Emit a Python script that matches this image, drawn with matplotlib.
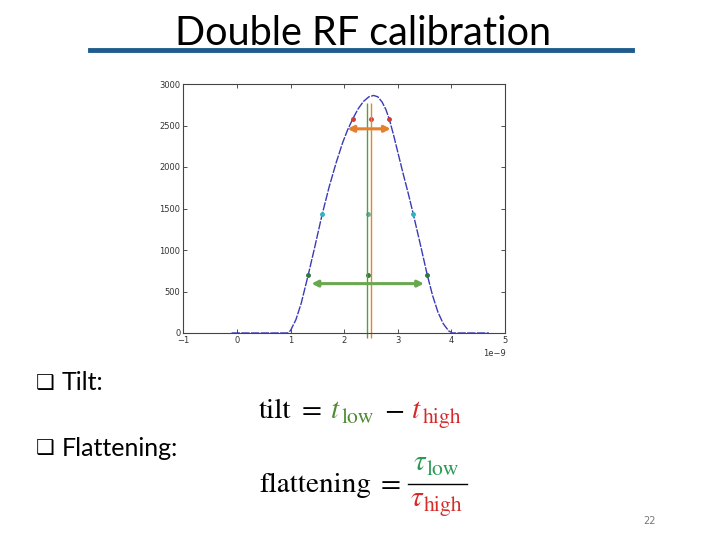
import matplotlib
matplotlib.use('Agg')
import matplotlib.pyplot as plt

# pulse shape (time in units of 1e-9 s)
curve_x = [-0.1, 0.5, 0.95, 1.0, 1.1, 1.2, 1.33, 1.45, 1.59, 1.72, 1.85, 1.97, 2.06,
           2.16, 2.26, 2.36, 2.46, 2.55, 2.63, 2.71, 2.78, 2.84, 2.92, 3.0, 3.1, 3.2,
           3.29, 3.42, 3.55, 3.65, 3.75, 3.85, 3.95, 4.02, 4.4, 4.7]
curve_y = [0, 0, 0, 30, 160, 360, 700, 1030, 1430, 1760, 2050, 2290, 2440,
           2580, 2700, 2790, 2845, 2862, 2845, 2780, 2690, 2580, 2390, 2180, 1920, 1670,
           1430, 1070, 700, 450, 250, 110, 25, 0, 0, 0]

high_x = [2.16, 2.50, 2.84]
high_y = [2580, 2580, 2580]
mid_x = [1.59, 2.44, 3.29]
mid_y = [1430, 1430, 1430]
low_x = [1.33, 2.44, 3.55]
low_y = [700, 700, 700]

t_low_line = 2.43
t_high_line = 2.51
line_ymin, line_ymax = -60, 2770

high_arrow = (2.06, 2.87, 2460)
low_arrow = (1.39, 3.49, 595)

fig = plt.figure(figsize=(7.2, 5.4), dpi=100)
W, H = 720.0, 540.0

def fx(px):
    return px / W

def fy(py):
    return 1 - py / H

# title and underline
fig.text(fx(363), fy(45), 'Double RF calibration', fontsize=28.5, family='Lato',
         ha='center', va='baseline', color='black')
fig.add_artist(plt.Line2D([fx(90), fx(632)], [fy(50), fy(50)], color='#1f5b8c', lw=3.5))

# chart
ax = fig.add_axes([fx(183.3), fy(333), fx(505 - 183.3), (333 - 84) / H])
ax.plot(curve_x, curve_y, color='#3a3ab8', lw=1.0, ls=(0, (6, 1)))
ax.plot(high_x, high_y, 'o', color='#d23a3a', ms=2.5)
ax.plot(mid_x[:1] + mid_x[2:], mid_y[:1] + mid_y[2:], 'o', color='#2fb3c0', ms=2.5)
ax.plot(mid_x[1:2], mid_y[1:2], 'o', color='#5fb0a0', ms=2.5)
ax.plot(low_x, low_y, 'o', color='#2a7a3a', ms=2.5)
ax.vlines(t_low_line, line_ymin, line_ymax, color='#5f9a40', lw=1.0, clip_on=False)
ax.vlines(t_high_line, line_ymin, line_ymax, color='#e5852f', lw=1.0, clip_on=False)
ax.annotate('', xy=(high_arrow[0], high_arrow[2]), xytext=(high_arrow[1], high_arrow[2]),
            arrowprops=dict(arrowstyle='<|-|>', color='#e5802f', lw=2.2, mutation_scale=9,
                            shrinkA=0, shrinkB=0))
ax.annotate('', xy=(low_arrow[0], low_arrow[2]), xytext=(low_arrow[1], low_arrow[2]),
            arrowprops=dict(arrowstyle='<|-|>', color='#6aa84f', lw=2.2, mutation_scale=9,
                            shrinkA=0, shrinkB=0))
ax.set_xlim(-1, 5)
ax.set_ylim(0, 3000)
ax.set_xticks(range(-1, 6))
ax.set_yticks(range(0, 3001, 500))
ax.tick_params(direction='in', top=True, right=True, labelsize=6, length=3, width=0.6,
               colors='#333333', pad=2)
for s in ax.spines.values():
    s.set_color('#444444')
    s.set_linewidth(0.8)
fig.text(fx(494), fy(354), '1e\u22129', fontsize=6, ha='center', va='center', color='#333333')

# bullets
for label, py in [('Tilt:', 383), ('Flattening:', 448)]:
    fig.text(fx(36), fy(py), '\u2751', fontsize=15, family='DejaVu Sans', ha='left',
             va='center', color='black')
    fig.text(fx(62), fy(py), label, fontsize=18, family='Lato', ha='left', va='center')

# formulas, composed piece by piece so each symbol can take its own colour
plt.rcParams['mathtext.fontset'] = 'stix'
green = '#4f8a35'
green2 = '#2a9a55'
red = '#d42a2a'
fs = 21
fs_sub = 15.5

def sym(px, py, main, sub, color, gap):
    fig.text(fx(px), fy(py), main, fontsize=fs, color=color, ha='left', va='baseline')
    fig.text(fx(px + gap), fy(py + 5), sub, fontsize=fs_sub, color=color,
             family='STIXGeneral', ha='left', va='baseline')

fig.text(fx(259), fy(418), 'tilt', fontsize=fs, family='STIXGeneral', ha='left', va='baseline')
fig.text(fx(302), fy(418), '=', fontsize=fs, family='STIXGeneral', ha='left', va='baseline')
sym(330, 418, r'$t$', 'low', green, 12)
fig.text(fx(384), fy(418), '\u2212', fontsize=fs, family='STIXGeneral', ha='left', va='baseline')
sym(411, 418, r'$t$', 'high', red, 12)

fig.text(fx(259), fy(492), 'flattening', fontsize=fs, family='STIXGeneral', ha='left',
         va='baseline')
fig.text(fx(381), fy(492), '=', fontsize=fs, family='STIXGeneral', ha='left', va='baseline')
sym(413, 470, r'$\tau$', 'low', green2, 14)
fig.add_artist(plt.Line2D([fx(408), fx(467)], [fy(484), fy(484)], color='black', lw=1.0))
sym(410, 506, r'$\tau$', 'high', red, 14)

fig.text(fx(650), fy(521), '22', fontsize=7, color='#777777', ha='center', va='center')

fig.savefig('out.png', dpi=100)
